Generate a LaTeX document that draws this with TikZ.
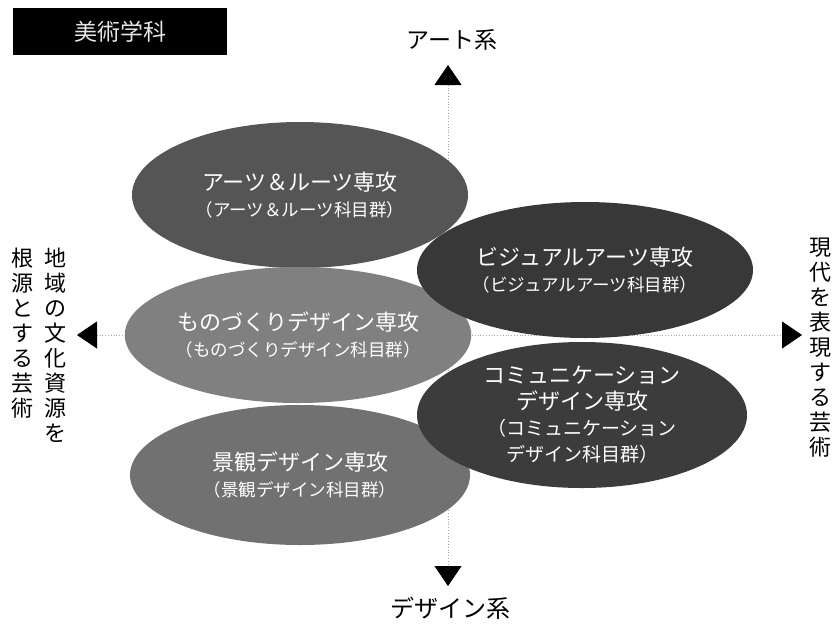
\documentclass[tikz,border=0pt]{standalone}
\usepackage{fontspec}
\setmainfont{Noto Sans CJK JP}
\usetikzlibrary{arrows.meta,shapes.geometric}
\definecolor{ellA}{HTML}{555555}
\definecolor{ellB}{HTML}{808080}
\definecolor{ellC}{HTML}{717171}
\definecolor{ellD}{HTML}{383838}
\definecolor{ellE}{HTML}{3C3C3C}
\tikzset{
  blob/.style={ellipse, draw=none, inner sep=0pt, text=white, align=center,
               font=\fontsize{22}{26}\selectfont},
  axisline/.style={draw=gray!70, dotted, line width=0.8pt},
  bigtip/.tip={Triangle[length=20pt,width=27pt,color=black]},
  axislabel/.style={font=\fontsize{23}{23}\selectfont, inner sep=0pt},
  sidetext/.style={font=\fontsize{22}{25}\selectfont, align=center, inner sep=0pt, anchor=north},
}
\newcommand{\subline}[1]{{\fontsize{17.5}{20}\selectfont #1}}
\begin{document}
\begin{tikzpicture}[x=1pt,y=-1pt]
\useasboundingbox (0,0) rectangle (834,624);
\fill[white] (0,0) rectangle (834,624);

% axes
\coordinate (vtop) at (448,65);
\coordinate (vbot) at (448,586);
\coordinate (hleft) at (77,335);
\coordinate (hright) at (802,335);
\draw[axisline, bigtip-bigtip] (vtop) -- (vbot);
\draw[axisline, bigtip-bigtip] (hleft) -- (hright);

% ellipses
\node[blob, fill=ellA, minimum width=336pt, minimum height=146pt] (arts) at (300,195)
  {アーツ＆ルーツ専攻\\\subline{（アーツ＆ルーツ科目群）}};
\node[blob, fill=ellB, minimum width=334pt, minimum height=136pt] (mono) at (298,335)
  {ものづくりデザイン専攻\\\subline{（ものづくりデザイン科目群）}};
\node[blob, fill=ellC, minimum width=340pt, minimum height=140pt] (land) at (300,475)
  {景観デザイン専攻\\\subline{（景観デザイン科目群）}};
\node[blob, fill=ellD, minimum width=336pt, minimum height=136pt] (vis) at (585,270)
  {ビジュアルアーツ専攻\\\subline{（ビジュアルアーツ科目群）}};
\node[blob, fill=ellE, minimum width=330pt, minimum height=146pt] (comm) at (582,415)
  {コミュニケーション\\デザイン専攻\\{\fontsize{19}{22}\selectfont （コミュニケーション}\\{\fontsize{19}{22}\selectfont デザイン科目群）}};

% title box
\node[fill=black, text=white!80!gray, minimum width=214pt, minimum height=47pt, inner sep=0pt,
      font=\fontsize{23}{23}\selectfont] (dept) at (120,31.5) {美術学科};

% axis labels
\node[axislabel] (artlbl) at (452,40) {アート系};
\node[axislabel, font=\fontsize{24}{24}\selectfont] (deslbl) at (450,608) {デザイン系};

% side texts
\node[sidetext] (left1) at (55,248) {地\\域\\の\\文\\化\\資\\源\\を};
\node[sidetext] (left2) at (22,248) {根\\源\\と\\す\\る\\芸\\術};
\node[sidetext] (right1) at (820,238) {現\\代\\を\\表\\現\\す\\る\\芸\\術};
\end{tikzpicture}
\end{document}
